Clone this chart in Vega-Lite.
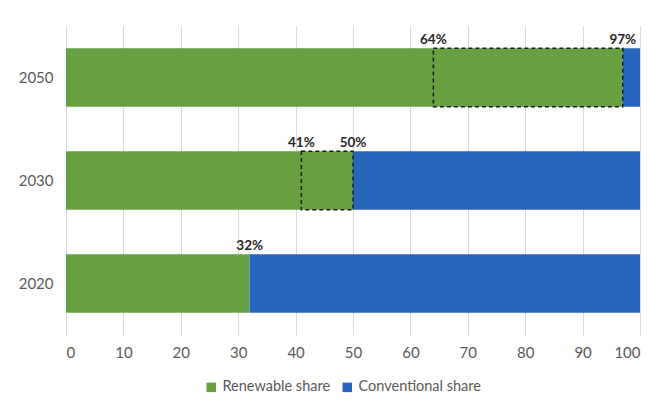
{
  "$schema": "https://vega.github.io/schema/vega-lite/v6.json",
  "autosize": {"type": "none"},
  "width": 574,
  "height": 309,
  "padding": {"left": 66, "top": 26, "right": 22, "bottom": 71},
  "background": "white",
  "config": {
    "font": "Lato",
    "view": {"stroke": null}
  },
  "datasets": {
    "shares": [
      {"year": "2050", "source": "Renewable share", "share": 97},
      {"year": "2050", "source": "Conventional share", "share": 3},
      {"year": "2030", "source": "Renewable share", "share": 50},
      {"year": "2030", "source": "Conventional share", "share": 50},
      {"year": "2020", "source": "Renewable share", "share": 32},
      {"year": "2020", "source": "Conventional share", "share": 68}
    ],
    "ranges": [
      {"year": "2050", "from": 64, "to": 97},
      {"year": "2030", "from": 41, "to": 50}
    ],
    "marks": [
      {"year": "2050", "pct": 64, "label": "64%"},
      {"year": "2050", "pct": 97, "label": "97%"},
      {"year": "2030", "pct": 41, "label": "41%"},
      {"year": "2030", "pct": 50, "label": "50%"},
      {"year": "2020", "pct": 32, "label": "32%"}
    ]
  },
  "encoding": {
    "y": {
      "field": "year",
      "type": "nominal",
      "sort": "descending",
      "scale": {"paddingInner": 0.43, "paddingOuter": 0.215},
      "axis": {
        "title": null,
        "domain": false,
        "ticks": false,
        "labelFontSize": 15,
        "labelColor": "#595959",
        "labelPadding": 13
      }
    }
  },
  "layer": [
    {
      "data": {"name": "shares"},
      "mark": {"type": "bar"},
      "encoding": {
        "x": {
          "field": "share",
          "type": "quantitative",
          "stack": "zero",
          "scale": {"domain": [0, 100], "nice": false},
          "axis": {
            "title": null,
            "values": [0, 10, 20, 30, 40, 50, 60, 70, 80, 90, 100],
            "grid": true,
            "gridColor": "#d9d9d9",
            "gridWidth": 1,
            "domain": false,
            "ticks": false,
            "labelFontSize": 15,
            "labelColor": "#595959",
            "labelPadding": 10
          }
        },
        "color": {
          "field": "source",
          "type": "nominal",
          "scale": {
            "domain": ["Renewable share", "Conventional share"],
            "range": ["#66a043", "#2866be"]
          },
          "legend": {
            "title": null,
            "orient": "none",
            "legendX": 138,
            "legendY": 354,
            "direction": "horizontal",
            "symbolType": "square",
            "symbolSize": 90,
            "symbolStrokeWidth": 0,
            "labelFontSize": 14.5,
            "labelColor": "#595959",
            "labelOffset": 4,
            "columnPadding": 9
          }
        },
        "order": {"field": "source", "sort": "descending"}
      }
    },
    {
      "data": {"name": "ranges"},
      "mark": {
        "type": "bar",
        "fillOpacity": 0,
        "stroke": "#1a1a1a",
        "strokeWidth": 1.5,
        "strokeDash": [4, 3]
      },
      "encoding": {
        "x": {"field": "from", "type": "quantitative"},
        "x2": {"field": "to"}
      }
    },
    {
      "data": {"name": "marks"},
      "mark": {
        "type": "text",
        "fontSize": 13.5,
        "fontWeight": "bold",
        "color": "#262626",
        "baseline": "alphabetic",
        "dy": -34
      },
      "encoding": {
        "x": {"field": "pct", "type": "quantitative"},
        "text": {"field": "label"}
      }
    }
  ]
}
